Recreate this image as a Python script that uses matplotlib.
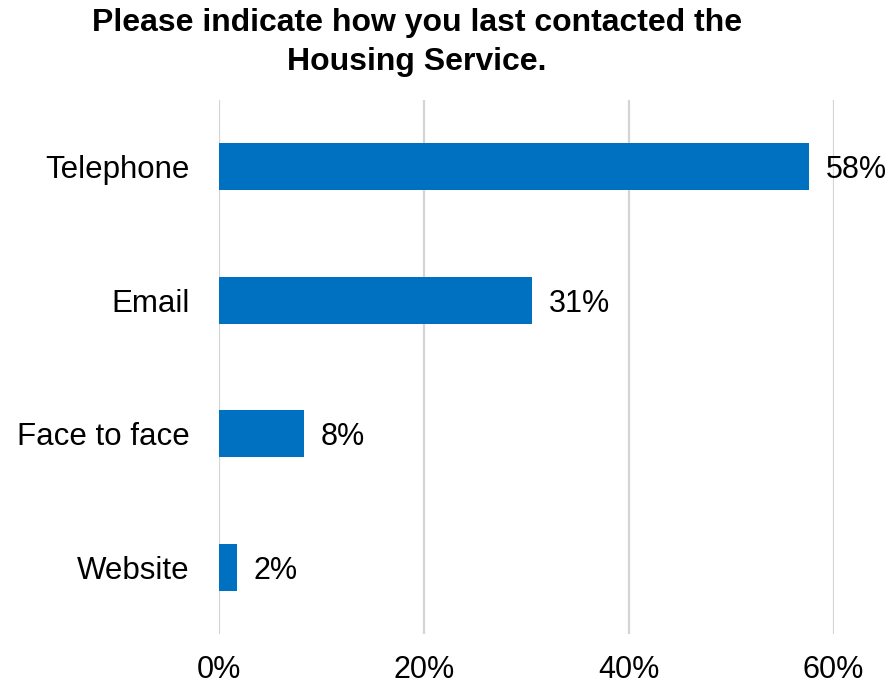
import matplotlib.pyplot as plt
from matplotlib.ticker import FuncFormatter

# last contact method, percent of respondents
channels = ['Telephone', 'Email', 'Face to face', 'Website']
shares = [57.6, 30.6, 8.3, 1.8]
x_ticks = [0, 20, 40, 60]
title_lines = ['Please indicate how you last contacted the', 'Housing Service.']

bar_color = '#0070C0'
grid_color = '#D4D4D4'

plt.rcParams['font.family'] = ['Liberation Sans', 'DejaVu Sans']

fig = plt.figure(figsize=(8.91, 6.84), dpi=100)
ax = fig.add_axes([0.2455, 0.073, 0.690, 0.781])

pos = list(range(len(channels)))
ax.barh(pos, shares, height=0.35, color=bar_color, zorder=3)

for p, v in zip(pos, shares):
	ax.text(v + 1.6, p, '{:.0f}%'.format(v), va='center_baseline', ha='left',
			fontsize=22, color='black', zorder=4)

ax.set_yticks(pos)
ax.set_yticklabels(channels, fontsize=22.5)
ax.set_ylim(len(channels) - 0.5, -0.5)

ax.set_xlim(0, 60)
ax.set_xticks(x_ticks)
ax.xaxis.set_major_formatter(FuncFormatter(lambda v, _: '{:.0f}%'.format(v)))
ax.tick_params(axis='x', labelsize=22, length=0, pad=15)
ax.tick_params(axis='y', length=0, pad=21)

ax.grid(axis='x', color=grid_color, linewidth=1.6, zorder=0)
for s in ax.spines.values():
	s.set_visible(False)

for y, line in zip([0.966, 0.909], title_lines):
	fig.text(0.468, y, line, ha='center', va='center', fontsize=23,
			 fontweight='bold')

fig.savefig('out.png', dpi=100)
